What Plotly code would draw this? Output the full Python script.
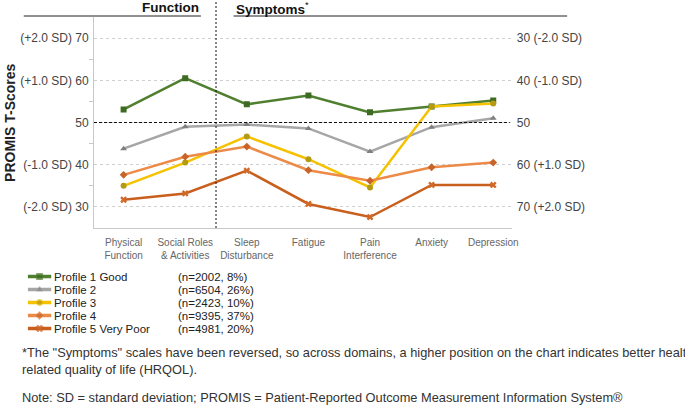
import plotly.graph_objects as go

W, H = 685, 405

categories = ["Physical<br>Function", "Social Roles<br>& Activities", "Sleep<br>Disturbance",
              "Fatigue", "Pain<br>Interference", "Anxiety", "Depression"]
profile_names = ["Profile 1 Good", "Profile 2", "Profile 3", "Profile 4", "Profile 5 Very Poor"]
profile_n = ["(n=2002, 8%)", "(n=6504, 26%)", "(n=2423, 10%)", "(n=9395, 37%)", "(n=4981, 20%)"]

p1 = [53.1, 60.5, 54.3, 56.4, 52.4, 53.8, 55.2]
p2 = [43.8, 49.0, 49.5, 48.6, 43.1, 48.9, 51.0]
p3 = [35.0, 40.5, 46.7, 41.3, 34.6, 53.8, 54.5]
p4 = [37.6, 41.9, 44.3, 38.7, 36.2, 39.4, 40.5]
p5 = [31.7, 33.2, 38.6, 30.7, 27.6, 35.2, 35.2]

left_ticks = ["(-2.0 SD) 30", "(-1.0 SD) 40", "50", "(+1.0 SD) 60", "(+2.0 SD) 70"]
right_ticks = ["70 (+2.0 SD)", "60 (+1.0 SD)", "50", "40 (-1.0 SD)", "30 (-2.0 SD)"]
tick_vals = [30, 40, 50, 60, 70]

line_colors = ["#4f7f2f", "#a6a6a6", "#f5c200", "#ec8a48", "#c95f1d"]
marker_colors = ["#3d6b22", "#7f7f7f", "#b59a14", "#c8642a", "#d06a2a"]
symbols = ["square", "triangle-up", "circle", "diamond", "x"]


def px_x(p):
    return p / W


def px_y(p):
    return 1 - p / H


FONT = "Liberation Sans, Arial, sans-serif"

fig = go.Figure()
series = [p1, p2, p3, p4, p5]
for i, vals in enumerate(series):
    fig.add_trace(go.Scatter(
        x=list(range(len(categories))), y=vals, mode="lines+markers",
        line=dict(color=line_colors[i], width=2.5),
        marker=dict(symbol=symbols[i], size=6, color=marker_colors[i]),
        showlegend=False, xaxis="x", yaxis="y"))

# empty trace so the right-hand axis gets drawn
fig.add_trace(go.Scatter(x=[], y=[], xaxis="x", yaxis="y2", showlegend=False))

# legend glyphs on their own little axes
for i in range(len(series)):
    fig.add_trace(go.Scatter(
        x=[0, 0.5, 1], y=[i, i, i], mode="lines+markers",
        line=dict(color=line_colors[i], width=3.5),
        marker=dict(symbol=symbols[i], size=[0, 6, 0], color=marker_colors[i]),
        showlegend=False, xaxis="x3", yaxis="y3", hoverinfo="skip"))
    fig.add_annotation(x=px_x(53), y=i, xref="paper", yref="y3", text=profile_names[i],
                       showarrow=False, xanchor="left", yanchor="middle",
                       font=dict(family=FONT, size=11.5, color="#222"))
    fig.add_annotation(x=px_x(178), y=i, xref="paper", yref="y3", text=profile_n[i],
                       showarrow=False, xanchor="left", yanchor="middle",
                       font=dict(family=FONT, size=11.5, color="#222"))

x_dom = [px_x(95), px_x(517)]
y_dom = [px_y(228), px_y(17)]

fig.update_layout(
    width=W, height=H, margin=dict(l=0, r=0, t=0, b=0),
    paper_bgcolor="white", plot_bgcolor="white",
    font=dict(family=FONT, size=12, color="#333"),
    xaxis=dict(domain=x_dom, range=[-0.48, 6.3], tickvals=list(range(len(categories))),
               ticktext=categories, showgrid=False, zeroline=False, showline=True,
               linecolor="#c8c8c8", linewidth=1, ticks="", ticklabelstandoff=5,
               tickfont=dict(family=FONT, size=10, color="#666"), anchor="y"),
    yaxis=dict(domain=y_dom, range=[25, 75], tickvals=tick_vals, ticktext=left_ticks,
               showgrid=True, gridcolor="#cfcfcf", griddash="dot", gridwidth=1,
               zeroline=False, showline=True, linecolor="#c8c8c8", linewidth=1,
               ticks="", ticklabelstandoff=2, tickfont=dict(family=FONT, size=12, color="#444"),
               minor=dict(tickvals=[35, 45, 55, 65], ticks="outside", ticklen=4,
                          tickcolor="#c8c8c8", showgrid=False),
               anchor="x"),
    yaxis2=dict(overlaying="y", side="right", anchor="x", range=[25, 75],
                tickvals=tick_vals, ticktext=right_ticks, showgrid=False,
                zeroline=False, showline=False, ticks="", ticklabelstandoff=4,
                tickfont=dict(family=FONT, size=12, color="#444")),
    xaxis3=dict(domain=[px_x(28), px_x(52)], range=[0, 1], visible=False, anchor="y3"),
    yaxis3=dict(domain=[px_y(335), px_y(270)], range=[4.5, -0.5], visible=False, anchor="x3"),
)

# reference line at 50
fig.add_shape(type="line", xref="paper", yref="y", x0=x_dom[0], x1=px_x(515), y0=50, y1=50,
              line=dict(color="#111", width=1, dash="3px,2px"))
# domain divider
fig.add_shape(type="line", xref="x", yref="paper", x0=1.5, x1=1.5, y0=y_dom[0], y1=1,
              line=dict(color="#111", width=1, dash="2px,2px"))
# header rules
fig.add_shape(type="line", xref="paper", yref="paper", x0=px_x(24), x1=px_x(203),
              y0=px_y(16), y1=px_y(16), line=dict(color="#222", width=1))
fig.add_shape(type="line", xref="paper", yref="paper", x0=px_x(236), x1=px_x(573),
              y0=px_y(16), y1=px_y(16), line=dict(color="#222", width=1))

fig.add_annotation(x=px_x(203), y=px_y(8), xref="paper", yref="paper", text="<b>Function</b>",
                   showarrow=False, xanchor="right", yanchor="middle",
                   font=dict(family=FONT, size=13.5, color="#111"))
fig.add_annotation(x=px_x(236), y=px_y(8), xref="paper", yref="paper",
                   text="<b>Symptoms</b><sup>*</sup>",
                   showarrow=False, xanchor="left", yanchor="middle",
                   font=dict(family=FONT, size=13.5, color="#111"))
fig.add_annotation(x=px_x(10), y=px_y(123), xref="paper", yref="paper",
                   text="<b>PROMIS T-Scores</b>", textangle=-90, showarrow=False,
                   xanchor="center", yanchor="middle",
                   font=dict(family=FONT, size=14, color="#222"))

footnote = ("*The \"Symptoms\" scales have been reversed, so across domains, a higher position on the "
            "chart indicates better health-<br>related quality of life (HRQOL).")
fig.add_annotation(x=px_x(20), y=px_y(361), xref="paper", yref="paper", text=footnote,
                   showarrow=False, xanchor="left", yanchor="middle", align="left",
                   font=dict(family=FONT, size=12.8, color="#333"))
fig.add_annotation(x=px_x(20), y=px_y(397), xref="paper", yref="paper",
                   text="Note: SD = standard deviation; PROMIS = Patient-Reported Outcome "
                        "Measurement Information System®",
                   showarrow=False, xanchor="left", yanchor="middle",
                   font=dict(family=FONT, size=12.8, color="#333"))

# drop the page's default body margin so the figure sits at the window corner
fig.write_html("out.html", config={"displayModeBar": False},
               post_script="document.body.style.margin = '0';")
